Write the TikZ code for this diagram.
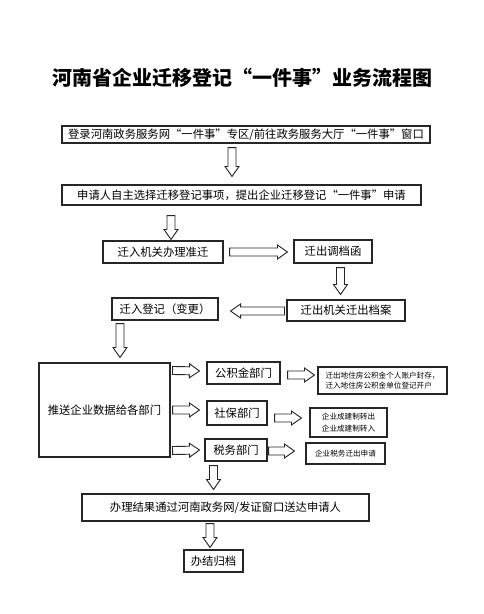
\documentclass[tikz,border=0pt]{standalone}
\usepackage{fontspec}
\setmainfont{Noto Sans CJK SC}
\usetikzlibrary{calc}
\newcommand{\shaftw}{3pt}
\newcommand{\headw}{5.25pt}
\newcommand{\headlen}{7.5pt}
\newcommand{\hollowarrow}[2]{%
\coordinate (ha-s) at (#1);
\coordinate (ha-e) at (#2);
\coordinate (ha-n) at ($(ha-e)!\headlen!(ha-s)$);
\draw [hollow] ($(ha-s)!\shaftw!90:(ha-e)$) -- ($(ha-n)!\shaftw!90:(ha-e)$) -- ($(ha-n)!\headw!90:(ha-e)$) -- (ha-e) -- ($(ha-n)!\headw!-90:(ha-e)$) -- ($(ha-n)!\shaftw!-90:(ha-e)$) -- ($(ha-s)!\shaftw!-90:(ha-e)$) -- cycle ;}
\tikzset{
  box/.style={draw=black!85, line width=0.8pt, inner sep=0pt, align=center, font=\fontsize{8.5pt}{10pt}\selectfont},
  smallbox/.style={box, align=left, font=\fontsize{5.7pt}{7pt}\selectfont},
  hollow/.style={draw=black!85, line width=0.7pt, fill=white, line join=miter},
  titletext/.style={inner sep=0pt, font=\fontsize{15pt}{18pt}\selectfont\bfseries}
}
\begin{document}
\begin{tikzpicture}[x=0.75pt,y=0.75pt,yscale=-1,xscale=1]
\useasboundingbox (0,0) rectangle (484,614);
\node [titletext] (title) at (242,78) {河南省企业迁移登记“一件事”业务流程图};
% upper chain
\node [box, minimum width=276pt, minimum height=12.75pt] (login) at (246,134.5) {登录河南政务服务网“一件事”专区/前往政务服务大厅“一件事”窗口};
\node [box, minimum width=269.25pt, minimum height=15pt] (apply) at (241.5,195) {申请人自主选择迁移登记事项，提出企业迁移登记“一件事”申请};
\node [box, minimum width=90pt, minimum height=16.5pt] (zhunqian) at (163,252) {迁入机关办理准迁};
\node [box, minimum width=58.5pt, minimum height=17.25pt] (diaodang) at (333,251.5) {迁出调档函};
\node [box, minimum width=88.5pt, minimum height=15.75pt] (dangan) at (346,310.5) {迁出机关迁出档案};
\node [box, minimum width=79.5pt, minimum height=16.5pt] (dengji) at (165,309) {迁入登记（变更）};
% departments
\node [box, minimum width=98.25pt, minimum height=70.5pt] (push) at (104.5,410) {推送企业数据给各部门};
\node [box, minimum width=54.75pt, minimum height=16.5pt] (gjj) at (243.5,373) {公积金部门};
\node [smallbox, minimum width=96.75pt, minimum height=20.25pt] (gjjres) at (382.5,380.5) {迁出地住房公积金个人账户封存，\\迁入地住房公积金单位登记开户};
\node [box, minimum width=45pt, minimum height=18pt] (shebao) at (237,413) {社保部门};
\node [smallbox, minimum width=57.75pt, minimum height=21.75pt] (shebaores) at (348.5,422.5) {企业成建制转出\\[1.5pt]企业成建制转入};
\node [box, minimum width=46.5pt, minimum height=16.5pt] (shuiwu) at (236,450) {税务部门};
\node [smallbox, minimum width=59.25pt, minimum height=15.75pt] (shuiwures) at (345.5,453.5) {企业税务迁出申请};
% result
\node [box, minimum width=215.25pt, minimum height=20.25pt] (result) at (225.5,507.5) {办理结果通过河南政务网/发证窗口送达申请人};
\node [box, minimum width=44.25pt, minimum height=16.5pt] (archive) at (213.5,561) {办结归档};
% hollow arrows
\hollowarrow{$(login.south)+(-14,4)$}{$(apply.north)+(-9.5,-8)$}
\hollowarrow{$(apply.south)+(-70.5,10)$}{$(zhunqian.north)+(8,-1)$}
\hollowarrow{$(zhunqian.east)+(6,0)$}{$(diaodang.west)+(-6,0.5)$}
\hollowarrow{$(diaodang.south)+(7.5,4)$}{$(dangan.north)+(-5.5,-5)$}
\hollowarrow{$(dangan.west)+(-2,0.5)$}{$(dengji.east)+(12,2)$}
\hollowarrow{$(dengji.south)+(-45,3)$}{$(push.north)+(15.5,-5)$}
\hollowarrow{$(push.north east)+(2,8)$}{$(gjj.west)+(-7,-2)$}
\hollowarrow{$(push.east)+(2,0)$}{$(shebao.west)+(-7,-3)$}
\hollowarrow{$(push.south east)+(2,-7)$}{$(shuiwu.west)+(-5,0)$}
\hollowarrow{$(gjj.east)+(7,2)$}{$(gjjres.west)+(-3,-5.5)$}
\hollowarrow{$(shebao.east)+(7,5)$}{$(shebaores.west)+(-8,-4.5)$}
\hollowarrow{$(shuiwu.east)+(1,1)$}{$(shuiwures.west)+(-11,-2.5)$}
\hollowarrow{$(shuiwu.south)+(-22.5,4)$}{$(result.north)+(-12,-4)$}
\hollowarrow{$(result.south)+(-15.5,2)$}{$(archive.north)+(-3.5,-2)$}
\end{tikzpicture}
\end{document}
